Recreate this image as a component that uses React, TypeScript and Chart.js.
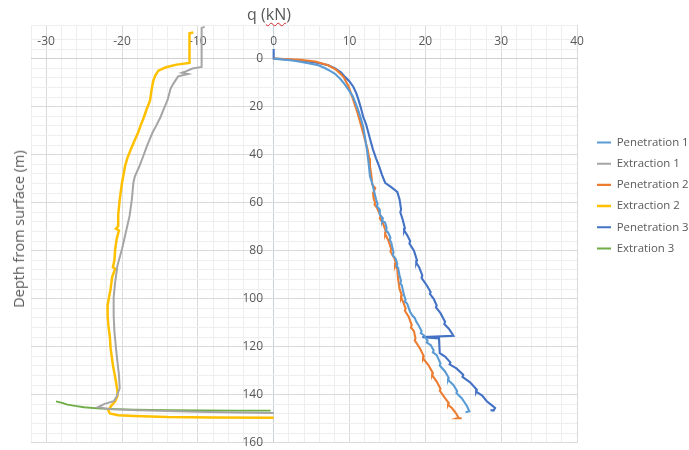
import { useEffect, useRef } from 'react';
import { Chart, registerables } from 'chart.js';

Chart.register(...registerables);

const FONT = "'Open Sans', 'Noto Sans', sans-serif";
const TEXT = '#595959';

// tick labels
const xMajorTicks = [-30, -20, -10, 0, 10, 20, 30, 40];
const yMajorTicks = [0, 20, 40, 60, 80, 100, 120, 140, 160];

// series labels and colours
const seriesNames = ['Penetration 1', 'Extraction 1', 'Penetration 2', 'Extraction 2', 'Penetration 3', 'Extration 3'];
const seriesColors = ['#5B9BD5', '#A5A5A5', '#ED7D31', '#FFC000', '#4472C4', '#70AD47'];
const seriesWidths = [2.1, 2.0, 2.1, 2.5, 2.1, 1.8];

// Penetration 1
const pen1Q = [0, 1.0, 2.2, 3.5, 4.9, 5.9, 6.8, 7.5, 8.1, 8.8, 9.4, 9.9, 10.4, 10.8, 11.2, 11.5, 11.8, 12.0, 12.3, 12.5, 12.7, 13.0, 13.3, 13.5, 13.7, 13.6, 13.9, 14.0, 14.4, 14.3, 14.7, 14.9, 14.8, 15.1, 15.4, 15.3, 15.5, 15.8, 15.7, 16.1, 16.3, 16.2, 16.4, 16.6, 16.8, 16.7, 16.9, 17.2, 17.4, 17.3, 17.6, 18.0, 18.3, 18.6, 18.8, 19.1, 19.5, 19.4, 19.8, 20.3, 20.2, 20.7, 21.1, 21.0, 21.5, 22.0, 21.9, 22.6, 23.1, 23.0, 23.7, 24.2, 24.1, 24.8, 25.2, 25.5, 25.8, 25.3];
const pen1D = [0, 0.3, 0.7, 1.3, 2.1, 2.8, 4.0, 5.2, 6.3, 8.5, 10.8, 13.1, 15.5, 18.5, 22, 25, 28.3, 32, 37.9, 43, 49, 52, 56, 58.6, 60.5, 61.5, 62.5, 65, 66.5, 67.5, 68.3, 70.5, 71.5, 72.5, 74.5, 75.5, 76.5, 80.7, 81.8, 83.4, 85.5, 86.5, 87, 90.3, 92.5, 93.5, 94.5, 98.6, 100.5, 101.2, 102, 105.5, 107, 108, 109.5, 111, 113.5, 114.3, 115.2, 117.5, 118.3, 119.3, 121.5, 122.3, 123.5, 127, 127.8, 130.3, 133, 133.8, 135.9, 138.5, 139.3, 141.4, 143.3, 144.8, 146.9, 147.3];

// Extraction 1
const ext1Q = [-9.1, -9.5, -9.5, -9.5, -9.5, -10.7, -11.6, -12.1, -11.3, -12.6, -13.2, -13.6, -14.0, -14.5, -14.9, -15.5, -16.0, -16.4, -16.8, -17.3, -17.7, -18.3, -18.5, -18.7, -19.0, -19.5, -20.0, -20.6, -20.9, -21.1, -21.1, -21.0, -20.7, -20.4, -20.3, -20.7, -21.1, -22.3, -23.2, -21.4, -18.0, -14.0, -10.0, -5.0, 0];
const ext1D = [-13.2, -12.8, -5, 0, 3.5, 4.1, 5.3, 5.9, 6.4, 7.4, 10.3, 12.5, 17.3, 21, 24.2, 28, 31, 34, 37.2, 41.5, 44.8, 49, 51.7, 58.6, 65.5, 72.4, 79.3, 86.2, 93.1, 99.3, 106.9, 113.8, 123.5, 131.7, 137.2, 140.7, 142.7, 143.8, 145.2, 146.0, 146.4, 146.8, 147.1, 147.4, 147.6];

// Penetration 2
const pen2Q = [0, 1.5, 3.5, 5.5, 7.2, 8.3, 9.2, 9.9, 10.2, 10.5, 10.9, 11.2, 11.5, 11.8, 12.1, 12.4, 12.6, 12.7, 12.9, 13.0, 13.4, 13.1, 13.2, 13.4, 13.3, 13.6, 14.1, 14.0, 14.4, 14.8, 14.7, 15.1, 15.5, 15.4, 15.9, 16.1, 16.0, 16.3, 16.4, 16.6, 16.9, 16.8, 17.1, 17.4, 17.3, 17.8, 18.2, 18.1, 18.5, 18.7, 18.6, 19.3, 19.8, 19.7, 20.4, 21.0, 20.9, 21.5, 22.0, 21.9, 22.6, 23.1, 23.0, 23.5, 24.0, 24.4, 24.2, 24.8];
const pen2D = [0, 0.2, 0.5, 1.2, 2.8, 4.8, 7.6, 11.7, 14.5, 17.3, 21, 24.2, 27.5, 31, 34.5, 37.9, 41.5, 44.8, 49, 52.5, 54, 56, 58.6, 60, 60.8, 62, 65.5, 66.5, 68.5, 72, 73, 75.5, 79.3, 80.3, 83, 85, 86, 87.6, 91.5, 95.9, 98.6, 99.5, 101.5, 104.1, 105, 107.5, 111, 112, 113.5, 116.5, 117.3, 120.7, 124, 124.8, 127.6, 131, 131.8, 134.5, 137.5, 138.3, 141.4, 143.5, 144.2, 145.5, 147.5, 149.6, 149.8, 149.8];

// Extraction 2
const ext2Q = [-10.6, -11.1, -11.1, -12.8, -14.2, -15.2, -15.6, -15.9, -16.1, -16.3, -16.8, -17.1, -17.5, -17.9, -18.4, -18.8, -19.3, -19.6, -20.0, -20.3, -20.5, -20.5, -20.8, -20.4, -20.7, -20.9, -21.0, -21.2, -20.9, -21.3, -21.5, -21.7, -21.9, -21.9, -21.8, -21.6, -21.5, -21.2, -20.8, -20.6, -20.6, -20.9, -21.4, -21.8, -21.6, -20.5, -18.4, -14.0, -8.0, 0];
const ext2D = [-10.9, -10.6, 1.8, 2.5, 3.6, 5.0, 7.0, 9.5, 13, 17.4, 21.5, 24.3, 27.5, 31, 34.5, 37.5, 41.5, 44.8, 51.7, 58.6, 65, 69.7, 70.8, 71.6, 75, 79.3, 84, 86.9, 87.5, 91, 95.9, 99.3, 102.8, 107, 111, 116, 120.7, 127.6, 134.5, 138.5, 140.5, 142.7, 144.5, 146.5, 147.8, 148.5, 148.8, 149.3, 149.5, 149.6];

// Penetration 3
const pen3Q = [0, 0, 2.0, 4.0, 5.9, 7.2, 8.1, 8.9, 9.4, 10.0, 10.5, 10.9, 11.2, 11.5, 11.8, 12.2, 12.5, 12.8, 13.1, 13.5, 13.9, 14.3, 14.7, 15.5, 16.3, 16.6, 16.8, 16.7, 17.0, 17.3, 17.2, 17.6, 18.0, 17.9, 18.5, 18.9, 18.8, 19.2, 19.6, 19.5, 20.2, 20.7, 20.6, 21.1, 21.5, 21.4, 22.0, 22.6, 22.5, 23.1, 23.7, 19.6, 21.8, 21.9, 22.6, 23.3, 23.2, 24.1, 25.0, 24.9, 25.9, 26.8, 26.7, 27.5, 28.1, 28.7, 29.2, 29.0, 28.6];
const pen3D = [-4, 0, 0.4, 1.0, 1.8, 2.8, 4.1, 5.8, 7.6, 9.5, 11.7, 14.5, 17.3, 20.5, 24.2, 27.5, 31, 34.5, 37.9, 41.5, 44.8, 48.5, 51.7, 53.5, 55.5, 58.6, 62.8, 64, 66.9, 70.5, 71.5, 73.5, 76, 77, 80, 84, 85, 87, 90.3, 91.3, 94.5, 97.2, 98, 100, 102.8, 103.6, 106, 109.6, 110.5, 112.5, 115.4, 116.0, 116.5, 122.7, 124.1, 126.5, 127.3, 129, 131.7, 132.5, 134.8, 137.9, 138.7, 140.3, 142.7, 144.2, 145.5, 146.6, 146.4];

// Extration 3
const ext3Q = [-28.7, -27.9, -27.2, -26.0, -25.0, -22.8, -18.4, -14.0, -9.6, -5.0, -0.4];
const ext3D = [142.7, 143.4, 144.1, 144.7, 145.2, 145.8, 146.2, 146.4, 146.5, 146.6, 146.6];

const seriesQ = [pen1Q, ext1Q, pen2Q, ext2Q, pen3Q, ext3Q];
const seriesD = [pen1D, ext1D, pen2D, ext2D, pen3D, ext3D];

const MAJOR = '#dadada';
const MINOR = '#eeeeee';

export default function App() {
  const ref = useRef<HTMLCanvasElement>(null);

  useEffect(() => {
    const canvas = ref.current;
    if (!canvas) return;
    const datasets = seriesNames.map((label, i) => ({
      label,
      data: seriesQ[i].map((q, j) => ({ x: q, y: seriesD[i][j] })),
      borderColor: seriesColors[i],
      backgroundColor: seriesColors[i],
      borderWidth: seriesWidths[i],
      pointRadius: 0,
      pointHoverRadius: 0,
      showLine: true,
      tension: 0,
      fill: false,
      xAxisID: 'x',
      yAxisID: 'y',
    }));

    const chart = new Chart(canvas, {
      type: 'scatter',
      data: { datasets },
      options: {
        responsive: false,
        animation: false,
        events: [],
        layout: { padding: { left: 31, top: 25, right: 0, bottom: 5 }, autoPadding: false },
        plugins: {
          tooltip: { enabled: false },
          title: { display: false },
          legend: {
            position: 'right',
            align: 'start',
            maxWidth: 101.8,
            title: { display: true, text: '', padding: { top: 87.6, bottom: 0 }, font: { size: 12, family: FONT } },
            labels: {
              usePointStyle: true,
              pointStyle: 'line',
              pointStyleWidth: 14,
              padding: 9.8,
              color: TEXT,
              font: { size: 11.4, family: FONT },
            },
          },
        },
        scales: {
          x: {
            type: 'linear',
            min: -32,
            max: 40,
            position: { y: 0 },
            ticks: {
              stepSize: 2,
              autoSkip: false,
              maxRotation: 0,
              minRotation: 0,
              padding: -24,
              color: TEXT,
              font: { size: 12, family: FONT },
              callback: (v: any) => (xMajorTicks.includes(Number(v)) ? String(v) : ''),
            },
            grid: {
              drawTicks: false,
              color: (ctx: any) => {
                const v = ctx.tick ? ctx.tick.value : 1;
                if (v === 0) return '#c8d0dc';
                return xMajorTicks.includes(v) ? MAJOR : MINOR;
              },
            },
            border: { display: true, color: '#d0d0d0' },
          },
          y: {
            type: 'linear',
            reverse: true,
            min: -14,
            max: 160,
            position: { x: -1.4 },
            ticks: {
              stepSize: 4,
              autoSkip: false,
              padding: 0,
              color: TEXT,
              font: { size: 12, family: FONT },
              callback: (v: any) => (yMajorTicks.includes(Number(v)) ? String(v) : ''),
            },
            grid: {
              drawTicks: false,
              color: (ctx: any) => {
                const v = ctx.tick ? ctx.tick.value : 1;
                return yMajorTicks.includes(v) ? MAJOR : MINOR;
              },
            },
            border: { display: false },
          },
          spacer: {
            type: 'linear',
            axis: 'y',
            position: 'right',
            display: true,
            ticks: { display: false },
            grid: { display: false, drawTicks: false },
            border: { display: false },
            afterFit: (s: any) => {
              s.width = 10.2;
            },
          },
        },
      } as any,
    });
    return () => chart.destroy();
  }, []);

  return (
    <div style={{ position: 'fixed', left: 0, top: 0, width: 689, height: 450, background: '#ffffff', fontFamily: FONT }}>
      <canvas ref={ref} width={689} height={450} style={{ display: 'block' }} />
      <div
        style={{
          position: 'absolute',
          left: 269,
          top: 5,
          transform: 'translateX(-50%)',
          fontSize: 16,
          lineHeight: '18px',
          color: TEXT,
          whiteSpace: 'nowrap',
        }}
      >
        q (
        <span style={{ textDecoration: 'underline wavy #d62828', textDecorationThickness: '1px', textUnderlineOffset: '2px' }}>kN</span>)
      </div>
      <div
        style={{
          position: 'absolute',
          left: 19,
          top: 229,
          transform: 'translate(-50%, -50%) rotate(-90deg)',
          fontSize: 14.5,
          lineHeight: '18px',
          color: TEXT,
          whiteSpace: 'nowrap',
        }}
      >
        Depth from surface (m)
      </div>
    </div>
  );
}
